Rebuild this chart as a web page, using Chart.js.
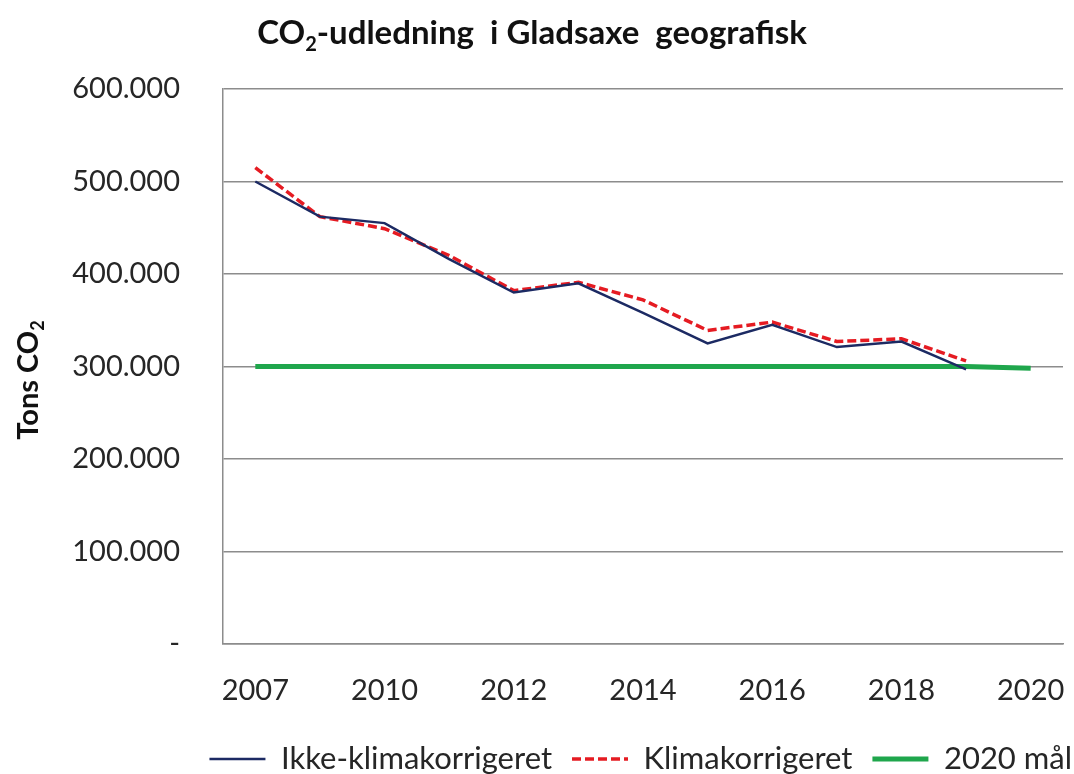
<!DOCTYPE html>
<html>
<head>
<meta charset="utf-8">
<script src="https://cdn.jsdelivr.net/npm/chart.js@4/dist/chart.umd.min.js"></script>
<style>
    html, body { margin: 0; padding: 0; background: #ffffff; }
    #wrap { width: 1074px; height: 774px; }
</style>
</head>
<body>
<div id="wrap"><canvas id="co2Chart"></canvas></div>
<script>
// years on the category axis (only every other one is labelled)
const years = ["2007", "2009", "2010", "2011", "2012", "2013", "2014", "2015", "2016", "2017", "2018", "2019", "2020"];
// tons CO2
const ikkeKlima = [500000, 462000, 455000, 416000, 380000, 390000, 358000, 325000, 345000, 321000, 327000, 297000, null];
const klima = [515000, 462000, 449000, 420000, 382000, 391000, 372000, 339000, 348000, 327000, 330000, 306000, null];
const maal2020 = [300000, 300000, 300000, 300000, 300000, 300000, 300000, 300000, 300000, 300000, 300000, 300000, 298000];
const yTicks = [0, 100000, 200000, 300000, 400000, 500000, 600000];

const fontFamily = "Lato, 'Open Sans', sans-serif";
const textColor = "#262626";
const gridColor = "#8c8c8c";

const fmt = (v) => {
    if (v === 0) return "-";
    return String(v).replace(/\B(?=(\d{3})+(?!\d))/g, ".");
};

// legend samples should look like the lines themselves (width + dash)
const legendLabels = (chart) => {
    const items = Chart.defaults.plugins.legend.labels.generateLabels(chart);
    items.forEach(item => {
        const ds = chart.data.datasets[item.datasetIndex];
        item.pointStyle = "line";
        item.strokeStyle = ds.borderColor;
        item.lineWidth = ds.borderWidth;
        item.lineDash = ds.borderDash || [];
        item.lineCap = "butt";
    });
    return items;
};

// draws text runs centred on cx, "sub" runs as a real subscript
const drawRuns = (c, runs, size, cx, baseline) => {
    const subSize = Math.round(size * 0.62);
    const fontOf = (sub) => `bold ${sub ? subSize : size}px ${fontFamily}`;
    let total = 0;
    runs.forEach(r => {
        c.font = fontOf(r.sub);
        r.w = c.measureText(r.text).width;
        total += r.w;
    });
    let x = cx - total / 2;
    runs.forEach(r => {
        c.font = fontOf(r.sub);
        c.fillText(r.text, x, r.sub ? baseline + size * 0.22 : baseline);
        x += r.w;
    });
};

// chart title and y-axis title with a proper CO2 subscript
const titlesPlugin = {
    id: "titles",
    afterDraw: (chart) => {
        const c = chart.ctx;
        c.save();
        c.fillStyle = "#111111";
        c.textAlign = "left";
        c.textBaseline = "alphabetic";
        drawRuns(c, [
            { text: "CO" },
            { text: "2", sub: true },
            { text: "-udledning  i Gladsaxe  geografisk" }
        ], 33, 532, 44);

        c.translate(28, 380);
        c.rotate(-Math.PI / 2);
        drawRuns(c, [
            { text: "Tons CO" },
            { text: "2", sub: true }
        ], 29, 0, 10);
        c.restore();
    }
};

const initChart = () => {
    const ctx = document.getElementById("co2Chart").getContext("2d");

    new Chart(ctx, {
        type: "line",
        data: {
            labels: years,
            datasets: [
                {
                    label: "Ikke-klimakorrigeret",
                    data: ikkeKlima,
                    borderColor: "#1c2a63",
                    backgroundColor: "#1c2a63",
                    borderWidth: 2.5,
                    pointRadius: 0,
                    tension: 0
                },
                {
                    label: "Klimakorrigeret",
                    data: klima,
                    borderColor: "#e51b22",
                    backgroundColor: "#e51b22",
                    borderWidth: 3.5,
                    borderDash: [9, 4],
                    pointRadius: 0,
                    tension: 0
                },
                {
                    label: "2020 mål",
                    data: maal2020,
                    borderColor: "#1fa64c",
                    backgroundColor: "#1fa64c",
                    borderWidth: 5,
                    pointRadius: 0,
                    tension: 0
                }
            ]
        },
        options: {
            responsive: true,
            maintainAspectRatio: false,
            animation: false,
            layout: {
                padding: { left: 0, right: -18, top: 89, bottom: -10.5 }
            },
            plugins: {
                title: { display: false },
                legend: {
                    position: "bottom",
                    align: "end",
                    labels: {
                        usePointStyle: true,
                        pointStyle: "line",
                        pointStyleWidth: 56,
                        boxHeight: 4,
                        padding: 20,
                        color: textColor,
                        font: { family: fontFamily, size: 31 },
                        generateLabels: legendLabels
                    }
                },
                tooltip: { enabled: false }
            },
            scales: {
                x: {
                    offset: true,
                    grid: { display: false, drawTicks: false },
                    border: { display: true, color: gridColor, width: 1.5 },
                    afterFit: (scale) => {
                        scale.height = 79.5;
                        scale.paddingLeft = 0;
                        scale.paddingRight = 11;
                    },
                    ticks: {
                        autoSkip: false,
                        maxRotation: 0,
                        padding: 29,
                        color: textColor,
                        font: { family: fontFamily, size: 29 },
                        callback: function (val, index) {
                            return index % 2 === 0 ? this.getLabelForValue(val) : "";
                        }
                    }
                },
                y: {
                    min: 0,
                    max: 600000,
                    afterBuildTicks: (scale) => {
                        scale.ticks = yTicks.map(v => ({ value: v }));
                    },
                    afterFit: (scale) => { scale.width = 223; },
                    grid: { color: gridColor, lineWidth: 1.5, drawTicks: false },
                    border: { display: true, color: gridColor, width: 1.5 },
                    ticks: {
                        padding: 43,
                        color: textColor,
                        font: { family: fontFamily, size: 29 },
                        callback: (v) => fmt(v)
                    }
                }
            }
        },
        plugins: [titlesPlugin]
    });
};

window.addEventListener("load", () => {
    initChart();
});
</script>
</body>
</html>
